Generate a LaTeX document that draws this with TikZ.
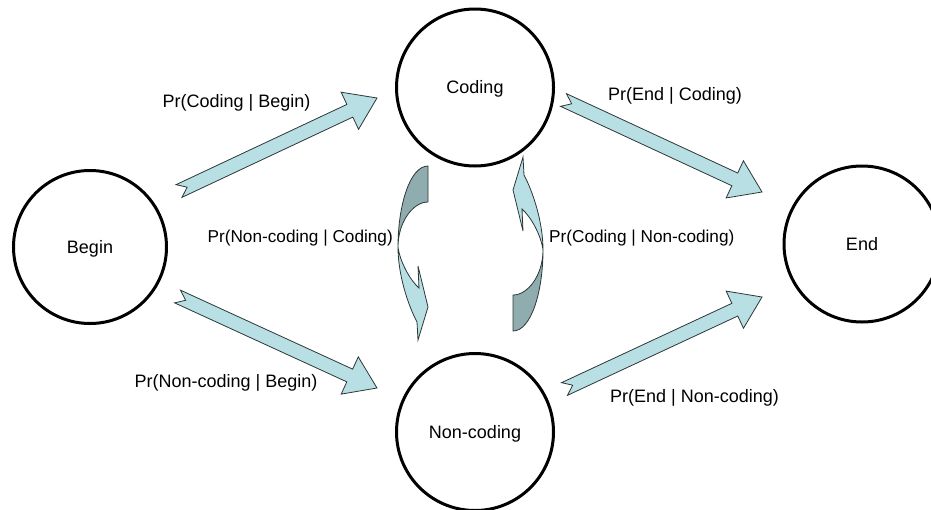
\documentclass[tikz,border=0pt]{standalone}
\usepackage{fontspec}
\setmainfont{Liberation Sans}
\usetikzlibrary{calc}
\definecolor{arrlight}{RGB}{184,223,227}
\definecolor{arrdark}{RGB}{143,173,175}
\definecolor{arredge}{RGB}{45,55,55}
\tikzset{
  state/.style={circle, draw=black, line width=3pt, fill=white, inner sep=0pt,
    text height=12.9pt, text depth=0pt, font=\fontsize{18}{21}\selectfont},
  lbl/.style={inner sep=0pt, font=\fontsize{18}{21}\selectfont},
  lblsmall/.style={inner sep=0pt, font=\fontsize{17.2}{20}\selectfont},
  barrow/.style={fill=arrlight, draw=arredge, line width=0.8pt, line join=miter},
  darkface/.style={fill=arrdark, draw=arredge, line width=0.8pt},
  lightface/.style={fill=arrlight, draw=arredge, line width=0.8pt, line join=miter}
}
% notched block arrow from tail coordinate #1 to tip coordinate #2
\newcommand\blockarr[2]{%
  \draw[barrow] let \p1=($(#2)-(#1)$), \n1={atan2(\y1,\x1)}, \n2={veclen(\x1,\y1)} in
    ([shift={(#1)},rotate=\n1]0pt,7pt)
    -- ([shift={(#1)},rotate=\n1]\n2-30pt,7pt)
    -- ([shift={(#1)},rotate=\n1]\n2-30pt,20.5pt)
    -- (#2)
    -- ([shift={(#1)},rotate=\n1]\n2-30pt,-20.5pt)
    -- ([shift={(#1)},rotate=\n1]\n2-30pt,-7pt)
    -- ([shift={(#1)},rotate=\n1]0pt,-7pt)
    -- ([shift={(#1)},rotate=\n1]9pt,0pt)
    -- cycle;}
% curved arrow drawn in pixel coordinates
\newcommand\curvedarr{%
  \draw[darkface] (428,166) -- (428,202)
    .. controls (413,202) and (398,222) .. (398,247)
    .. controls (398,205) and (410,166) .. (428,166) -- cycle;
  \draw[lightface] (398,247)
    .. controls (400,262) and (410,280) .. (419,288)
    -- (418,266) -- (428,307) -- (418,340) -- (417,322)
    .. controls (408,305) and (398,275) .. (398,247) -- cycle;}
\begin{document}
\begin{tikzpicture}[x=1pt,y=-1pt]
\useasboundingbox (0,0) rectangle (931,509);
% states
\node[state, minimum size=153pt] (Begin) at (90,247) {Begin};
\node[state, minimum size=157pt] (Coding) at (475,87.5) {Coding};
\node[state, minimum size=157pt] (Noncoding) at (475,432) {Non-coding};
\node[state, minimum size=156pt] (End) at (862,244) {End};
% block arrows
\coordinate (t1) at (179,191);   \coordinate (h1) at (377,98);
\coordinate (t2) at (563.5,100); \coordinate (h2) at (762,192);
\coordinate (t3) at (177.5,296.5); \coordinate (h3) at (377,388);
\coordinate (t4) at (564.5,389); \coordinate (h4) at (762,297);
\blockarr{t1}{h1}
\blockarr{t2}{h2}
\blockarr{t3}{h3}
\blockarr{t4}{h4}
% curved arrows
\curvedarr
\begin{scope}[rotate around={180:(470.5,248.5)}]
\curvedarr
\end{scope}
% labels
\node[lbl, anchor=base] (l1) at (236.5,107) {Pr(Coding | Begin)};
\node[lbl, anchor=base] (l2) at (675,100) {Pr(End | Coding)};
\node[lblsmall, anchor=base east] (l3) at (393,242) {Pr(Non-coding | Coding)};
\node[lblsmall, anchor=base west] (l4) at (549,242) {Pr(Coding | Non-coding)};
\node[lbl, anchor=base] (l5) at (226,387) {Pr(Non-coding | Begin)};
\node[lbl, anchor=base] (l6) at (694.5,402) {Pr(End | Non-coding)};
\end{tikzpicture}
\end{document}
